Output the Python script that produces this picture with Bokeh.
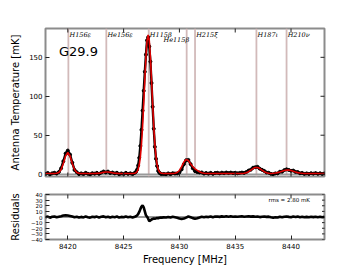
import math
from bokeh.plotting import figure
from bokeh.models import Span, FixedTicker, Range1d
from bokeh.layouts import column
from bokeh.embed import file_html
from bokeh.resources import INLINE
from bokeh.core.properties import value

# ---------------- data ----------------
freq = [
    8418.0, 8418.2, 8418.4, 8418.6, 8418.8, 8419.0, 8419.2, 8419.4, 8419.6, 8419.8,
    8420.0, 8420.2, 8420.4, 8420.6, 8420.8, 8421.0, 8421.2, 8421.4, 8421.6, 8421.8,
    8422.0, 8422.2, 8422.4, 8422.6, 8422.8, 8423.0, 8423.2, 8423.4, 8423.6, 8423.8,
    8424.0, 8424.2, 8424.4, 8424.6, 8424.8, 8425.0, 8425.2, 8425.4, 8425.6, 8425.8,
    8426.0, 8426.1, 8426.2, 8426.3, 8426.4, 8426.5, 8426.6, 8426.7, 8426.8, 8426.9,
    8427.0, 8427.1, 8427.2, 8427.3, 8427.4, 8427.5, 8427.6, 8427.7, 8427.8, 8427.9,
    8428.0, 8428.1, 8428.2, 8428.3, 8428.4,
    8428.6, 8428.8, 8429.0, 8429.2, 8429.4, 8429.6, 8429.8, 8430.0, 8430.2, 8430.4,
    8430.6, 8430.8, 8431.0, 8431.2, 8431.4, 8431.6, 8431.8, 8432.0, 8432.2, 8432.4,
    8432.6, 8432.8, 8433.0, 8433.2, 8433.4, 8433.6, 8433.8, 8434.0, 8434.2, 8434.4,
    8434.6, 8434.8, 8435.0, 8435.2, 8435.4, 8435.6, 8435.8, 8436.0, 8436.2, 8436.4,
    8436.6, 8436.8, 8437.0, 8437.2, 8437.4, 8437.6, 8437.8, 8438.0, 8438.2, 8438.4,
    8438.6, 8438.8, 8439.0, 8439.2, 8439.4, 8439.6, 8439.8, 8440.0, 8440.2, 8440.4,
    8440.6, 8440.8, 8441.0, 8441.2, 8441.4, 8441.6, 8441.8, 8442.0, 8442.2, 8442.4,
    8442.6, 8442.8, 8443.0,
]

antenna_temp = [
    0.3, 1.6, -0.4, 1.1, 1.8, 0.7, 2.8, 7.5, 16.6, 26.5,
    30.3, 25.1, 14.7, 5.4, 2.6, 0.1, 1.0, 0.1, 1.7, 0.5,
    -0.3, 1.3, 0.6, 1.7, 0.4, 2.0, 3.4, 2.2, 3.3, 1.4,
    2.1, 0.9, 1.8, -0.2, 1.0, 0.2, 1.7, 0.4, 1.1, 0.1,
    1.7, 2.9, 5.7, 11.2, 21.0, 36.2, 56.9, 81.6, 107.0, 131.5,
    153.5, 171.8, 175.8, 163.8, 144.5, 117.0, 86.5, 58.3, 35.2, 19.8,
    10.4, 4.1, 1.8, 0.8, 0.1,
    0.3, -0.2, 1.0, 0.0, 1.3, 0.8, 0.9, 2.2, 6.1, 12.8,
    17.9, 18.3, 12.9, 7.5, 3.9, 2.7, 2.1, 2.2, 0.7, 1.5,
    0.6, 1.7, 0.4, 1.5, 1.8, 1.0, 1.9, 1.2, 2.1, 1.4,
    2.0, 1.3, 1.8, 1.1, 1.6, 2.0, 1.6, 2.8, 4.6, 5.8,
    8.3, 8.9, 9.4, 7.0, 5.6, 4.2, 2.1, 1.8, 0.4, -0.1,
    1.0, 1.0, 3.1, 3.2, 5.2, 6.2, 5.4, 4.3, 4.6, 2.9,
    2.7, 1.1, 1.6, 0.3, 1.0, 0.3, 1.2, 0.6, 1.4, 0.4,
    1.1, 0.3, 1.0,
]

fit_temp = [
    0.8, 0.8, 0.8, 0.8, 0.8, 1.1, 2.2, 6.0, 13.8, 23.3,
    27.8, 23.3, 13.8, 6.0, 2.2, 1.1, 0.8, 0.8, 0.8, 0.8,
    0.8, 0.8, 0.8, 1.0, 1.2, 1.7, 2.3, 2.7, 2.7, 2.3,
    1.7, 1.2, 1.0, 0.8, 0.8, 0.8, 0.8, 0.8, 0.8, 0.8,
    1.2, 1.7, 3.1, 6.2, 12.0, 22.2, 38.4, 61.1, 90.0, 121.5,
    150.5, 171.3, 178.8, 171.3, 150.5, 121.5, 90.0, 61.1, 38.4, 22.2,
    12.0, 6.2, 3.1, 1.7, 1.2,
    0.9, 0.8, 0.8, 0.8, 0.8, 1.1, 2.1, 4.7, 9.6, 15.6,
    18.9, 17.5, 13.4, 9.5, 6.9, 4.9, 3.1, 1.9, 1.2, 0.9,
    0.8, 0.8, 0.8, 0.8, 0.8, 0.8, 0.8, 0.8, 0.8, 0.8,
    0.8, 0.8, 0.8, 0.8, 0.8, 0.8, 1.2, 1.9, 3.2, 5.1,
    7.2, 8.6, 8.6, 7.2, 5.1, 3.2, 1.9, 1.2, 0.9, 1.1,
    1.4, 2.0, 2.8, 3.8, 4.7, 5.2, 5.2, 4.7, 3.8, 2.8,
    2.0, 1.4, 1.1, 0.9, 0.8, 0.8, 0.8, 0.8, 0.8, 0.8,
    0.8, 0.8, 0.8,
]

residuals = [
    -0.5, 0.8, -1.2, 0.3, 1.0, -0.4, 0.6, 1.5, 2.8, 3.2,
    2.5, 1.8, 0.9, -0.6, 0.4, -1.0, 0.2, -0.7, 0.9, -0.3,
    -1.1, 0.5, -0.2, 0.7, -0.8, 0.3, 1.1, -0.5, 0.6, -0.9,
    0.4, -0.3, 0.8, -1.0, 0.2, -0.6, 0.9, -0.4, 0.3, -0.7,
    0.5, 1.2, 2.6, 5.0, 9.0, 14.0, 18.5, 20.5, 17.0, 10.0,
    3.0, 0.5, -3.0, -7.5, -6.0, -4.5, -3.5, -2.8, -3.2, -2.4,
    -1.6, -2.1, -1.3, -0.9, -1.1,
    -0.6, -1.0, 0.2, -0.8, 0.5, -0.3, -1.2, -2.5, -3.5, -2.8,
    -1.0, 0.8, -0.5, -2.0, -3.0, -2.2, -1.0, 0.3, -0.5, 0.6,
    -0.2, 0.9, -0.4, 0.7, 1.0, 0.2, 1.1, 0.4, 1.3, 0.6,
    1.2, 0.5, 1.0, 0.3, 0.8, 1.2, 0.4, 0.9, 1.4, 0.7,
    1.1, 0.3, 0.8, -0.2, 0.5, 1.0, 0.2, 0.6, -0.5, -1.2,
    -0.4, -1.0, 0.3, -0.6, 0.5, 1.0, 0.2, -0.4, 0.8, 0.1,
    0.7, -0.3, 0.5, -0.6, 0.2, -0.5, 0.4, -0.2, 0.6, -0.4,
    0.3, -0.5, 0.2,
]

line_freqs = [8420.05, 8423.45, 8427.25, 8430.65, 8431.40, 8436.90, 8439.60]
line_names = ["H156ε", "He156ε", "H115β", "He115β", "H215ξ", "H187ι", "H210ν"]
label_row = [0, 0, 0, 1, 0, 0, 0]

temp_ticks = [0, 50, 100, 150]
res_ticks = [-40, -30, -20, -10, 0, 10, 20, 30, 40]
freq_ticks = [8420, 8425, 8430, 8435, 8440]
source_name = "G29.9"
rms_text = "rms =  2.80 mK"

X0, X1 = 8418.0, 8443.0
TY0, TY1 = -3.0, 187.0
RY0, RY1 = -40.0, 40.0

FONT = "DejaVu Sans"
FRAME = "#8c8c8c"
LINE_COL = "#d2baba"
TICK_COL = "#222222"

xr = Range1d(X0, X1)


def axis_style(ax, size):
    ax.axis_line_color = None
    ax.major_tick_in = 4
    ax.major_tick_out = 0
    ax.minor_tick_line_color = None
    ax.major_tick_line_color = TICK_COL
    ax.major_tick_line_width = 1
    ax.major_label_text_font = FONT
    ax.major_label_text_color = "black"
    ax.major_label_text_font_size = size
    ax.major_label_standoff = 3
    ax.axis_label_text_font = FONT
    ax.axis_label_text_font_size = "10px"
    ax.axis_label_text_font_style = "normal"
    ax.axis_label_text_color = "black"


def make_fig(yr, height, top, bottom):
    p = figure(x_range=xr, y_range=yr, width=330, height=height,
               output_backend="svg", toolbar_location=None,
               min_border_left=45, min_border_right=6,
               min_border_top=top, min_border_bottom=bottom)
    p.grid.visible = False
    p.outline_line_color = FRAME
    p.outline_line_width = 2
    p.background_fill_color = "white"
    p.border_fill_color = "white"
    return p


def edge_ticks(p, xs, ys, vertical, size):
    # inward tick marks on the unlabeled frame edges (clipped by the frame)
    p.scatter(xs, ys, marker="dash", size=size, angle=(math.pi / 2 if vertical else 0),
              line_color=TICK_COL, line_width=1)


# ---------------- top panel: spectrum ----------------
p1 = make_fig(Range1d(TY0, TY1), 179, 28, 3)
p1.xaxis.visible = False
p1.yaxis.ticker = FixedTicker(ticks=temp_ticks)
axis_style(p1.yaxis[0], "7px")
p1.yaxis.axis_label = "Antenna Temperature [mK]"
p1.yaxis.axis_label_standoff = 5

for f in line_freqs:
    p1.add_layout(Span(location=f, dimension="height", line_color=LINE_COL,
                       line_width=1.8, level="underlay"))
p1.add_layout(Span(location=0, dimension="width", line_color="#9a9a9a",
                   line_width=1.5, level="underlay"))

p1.line(freq, antenna_temp, color="black", line_width=2.4)
p1.scatter(freq, antenna_temp, size=3.0, color="black")
p1.line(freq, fit_temp, color="#e00000", line_width=1.6)

edge_ticks(p1, freq_ticks, [TY1] * len(freq_ticks), True, 8)
edge_ticks(p1, freq_ticks, [TY0] * len(freq_ticks), True, 8)
edge_ticks(p1, [X1] * len(temp_ticks), temp_ticks, False, 8)

lab_x = [f + 0.1 if r == 0 else f - 2.08 for f, r in zip(line_freqs, label_row)]
lab_y = [TY1 - 8.3 if r == 0 else TY1 - 14.8 for r in label_row]
p1.text(x=lab_x, y=lab_y, text=line_names, text_font=value("DejaVu Serif"),
        text_font_style="italic", text_font_size="6.5px", text_color="black",
        text_baseline="alphabetic", text_align="left")

p1.text(x=[X0 + 1.2], y=[TY1 - 29.5], text=[source_name], text_font=value(FONT),
        text_font_size="13px", text_color="black", text_baseline="alphabetic")

# ---------------- bottom panel: residuals ----------------
p2 = make_fig(Range1d(RY0, RY1), 88, 15, 24)
p2.xaxis.ticker = FixedTicker(ticks=freq_ticks)
axis_style(p2.xaxis[0], "7px")
p2.xaxis.axis_label = "Frequency [MHz]"
p2.xaxis.axis_label_standoff = 2

p2.yaxis.ticker = FixedTicker(ticks=res_ticks)
axis_style(p2.yaxis[0], "5.5px")
p2.yaxis.major_label_overrides = {t: ("−" + str(-t) if t < 0 else str(t)) for t in res_ticks}
p2.yaxis.axis_label = "Residuals"
p2.yaxis.axis_label_standoff = 7

edge_ticks(p2, freq_ticks, [RY1] * len(freq_ticks), True, 8)
edge_ticks(p2, [X1] * len(res_ticks), res_ticks, False, 5)

p2.add_layout(Span(location=0, dimension="width", line_color="black",
                   line_width=0.8, level="underlay"))
p2.line(freq, residuals, color="black", line_width=2.6)

p2.text(x=[X1 - 1.15], y=[RY1 - 9.5], text=[rms_text], text_font=value(FONT),
        text_font_size="5.5px", text_color="black", text_align="right",
        text_baseline="alphabetic")

layout = column(p1, p2, spacing=0)
open("out.html", "w").write(file_html(layout, INLINE))
